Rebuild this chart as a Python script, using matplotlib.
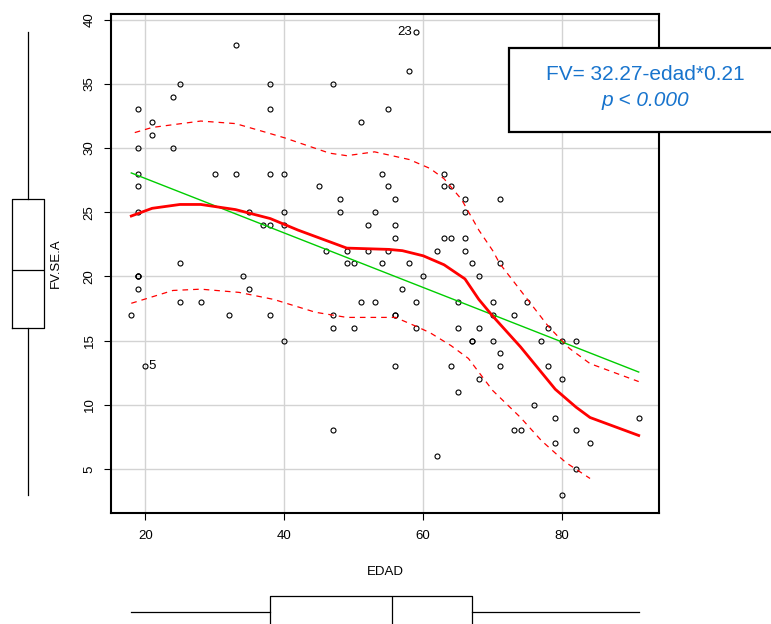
import numpy as np
import matplotlib
matplotlib.use('Agg')
import matplotlib.pyplot as plt
from matplotlib.patches import Rectangle

plt.rcParams['font.family'] = ['Liberation Sans', 'DejaVu Sans']

#data (overlapping circles counted twice)
edad = [59, 33, 58, 25, 38, 47, 24, 19, 38, 55, 21, 51, 21, 19, 24,
        19, 30, 33, 38, 40, 54, 63,
        19, 45, 55, 63, 64,
        48, 56, 66, 71,
        19, 35, 40, 48, 53, 66,
        37, 38, 40, 52, 56,
        56, 63, 64, 66,
        46, 49, 52, 55, 62, 66,
        25, 49, 50, 54, 58, 67, 71,
        19, 19, 19, 34, 60, 68,
        19, 35, 57,
        25, 28, 51, 53, 59, 65, 70, 75,
        18, 32, 38, 47, 56, 56, 70, 73,
        47, 50, 59, 65, 68, 78,
        40, 67, 67, 70, 77, 80, 82,
        71,
        20, 56, 64, 71, 78,
        68, 80,
        65,
        76,
        79, 91,
        47, 73, 74, 82,
        79, 84,
        62,
        82,
        80]
fv = [39, 38, 36, 35, 35, 35, 34, 33, 33, 33, 32, 32, 31, 30, 30,
      28, 28, 28, 28, 28, 28, 28,
      27, 27, 27, 27, 27,
      26, 26, 26, 26,
      25, 25, 25, 25, 25, 25,
      24, 24, 24, 24, 24,
      23, 23, 23, 23,
      22, 22, 22, 22, 22, 22,
      21, 21, 21, 21, 21, 21, 21,
      20, 20, 20, 20, 20, 20,
      19, 19, 19,
      18, 18, 18, 18, 18, 18, 18, 18,
      17, 17, 17, 17, 17, 17, 17, 17,
      16, 16, 16, 16, 16, 16,
      15, 15, 15, 15, 15, 15, 15,
      14,
      13, 13, 13, 13, 13,
      12, 12,
      11,
      10,
      9, 9,
      8, 8, 8, 8,
      7, 7,
      6,
      5,
      3]

#loess smoother and spread
lo_x = [18, 21, 25, 28, 33, 38, 42, 46, 49, 55, 57, 60, 63, 66, 68, 70, 74, 79, 82, 84, 91]
lo_y = [24.7, 25.3, 25.6, 25.6, 25.2, 24.5, 23.6, 22.8, 22.2, 22.1, 22.0, 21.6, 20.9, 19.8, 18.2, 16.9, 14.5, 11.2, 9.8, 9.0, 7.6]
up_x = [18.5, 21, 28, 33, 37.5, 40, 46.5, 49, 53, 58, 61, 63, 65.5, 68, 70, 71, 75, 78, 81, 84, 91]
up_y = [31.2, 31.6, 32.1, 31.9, 31.2, 30.8, 29.6, 29.4, 29.7, 29.1, 28.4, 27.6, 26.0, 23.6, 22.0, 21.0, 18.2, 16.1, 14.4, 13.2, 11.8]
dn_x = [18, 24, 28, 33.5, 38.5, 44.5, 49, 56, 59, 61, 64, 66.5, 70, 74, 77, 80.5, 84]
dn_y = [17.9, 18.9, 19.0, 18.75, 18.2, 17.2, 16.8, 16.8, 16.1, 15.6, 14.6, 13.6, 11.1, 9.0, 7.2, 5.5, 4.25]

W, H = 771, 624
fig = plt.figure(figsize=(W/100, H/100), dpi=100)

def box(l, t, r, b):
    return [l/W, (H-b)/H, (r-l)/W, (b-t)/H]

#main panel
ax = fig.add_axes(box(111, 14, 659, 513))
x = np.array(edad); y = np.array(fv)
ax.grid(True, color='#d3d3d3', lw=1)
ax.set_axisbelow(True)
ax.plot(x, y, 'o', mfc='none', mec='black', ms=3.6, mew=0.8, zorder=3)

b, a = np.polyfit(x, y, 1)
xx = np.array([x.min(), x.max()])
ax.plot(xx, a + b*xx, color='#00CD00', lw=1, zorder=4)
ax.plot(lo_x, lo_y, color='red', lw=2, zorder=5)
ax.plot(up_x, up_y, color='red', lw=0.9, ls=(0, (4.5, 4)), zorder=5)
ax.plot(dn_x, dn_y, color='red', lw=0.9, ls=(0, (4.5, 4)), zorder=5)

ax.annotate('23', (59, 39), xytext=(-3, 0), textcoords='offset points', ha='right', va='center', fontsize=9.5)
ax.annotate('5', (20, 13), xytext=(2, 0), textcoords='offset points', ha='left', va='center', fontsize=9.5)

xlim = (15.08, 93.92)
ylim = (1.56, 40.44)
ax.set_xlim(xlim)
ax.set_ylim(ylim)
ax.set_xticks([20, 40, 60, 80])
ax.set_yticks([5, 10, 15, 20, 25, 30, 35, 40])
ax.tick_params(axis='x', length=5, width=0.8, pad=7, labelsize=9.5)
ax.tick_params(axis='y', length=5, width=0.8, pad=6, labelsize=9.5)
for lab in ax.get_yticklabels():
    lab.set_rotation(90); lab.set_va('center')
for s in ax.spines.values():
    s.set_linewidth(1.5)

fig.text(385/W, 1-572/H, 'EDAD', ha='center', va='center', fontsize=9.5)
fig.text(56/W, 1-263/H, 'FV.SE.A', ha='center', va='center', rotation=90, fontsize=9.5)

bp_style = dict(showcaps=False, showfliers=False,
                boxprops=dict(color='black', lw=0.9), whiskerprops=dict(color='black', lw=0.9),
                medianprops=dict(color='black', lw=0.9))

#marginal boxplot for y
ay = fig.add_axes(box(0, 14, 60, 513))
ay.boxplot(y, positions=[28], widths=32, **bp_style)
ay.set_xlim(0, 60); ay.set_ylim(ylim)
ay.axis('off')

#marginal boxplot for x
axb = fig.add_axes(box(111, 580, 659, 624))
axb.boxplot(x, positions=[12], widths=32, orientation='horizontal', **bp_style)
axb.set_ylim(0, 44); axb.set_xlim(xlim)
axb.axis('off')

#equation box
fig.add_artist(Rectangle((509/W, 1-131.7/H), 300/W, 83.4/H, transform=fig.transFigure,
                         facecolor='white', edgecolor='black', lw=1.6, zorder=10, clip_on=False))
fig.text(645/W, 1-75/H, 'FV= 32.27-edad*0.21', ha='center', va='center', fontsize=15, color='#1874CD', zorder=11)
fig.text(645/W, 1-100/H, 'p < 0.000', ha='center', va='center', fontsize=15, color='#1874CD',
         style='italic', zorder=11)

plt.savefig('out.png', dpi=100)
